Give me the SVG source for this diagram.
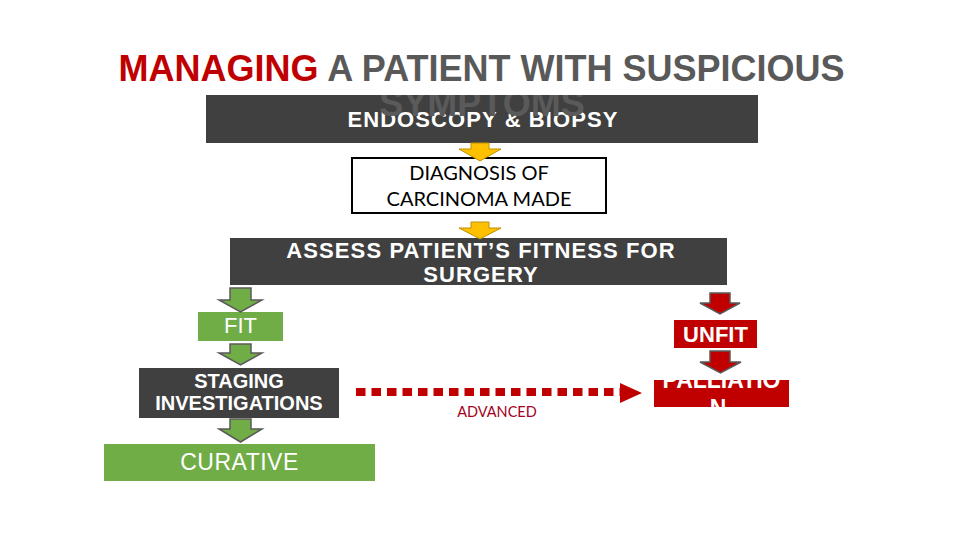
<svg xmlns="http://www.w3.org/2000/svg" width="960" height="540" viewBox="0 0 960 540">
<defs>
<style>
.dark{fill:#404040}
.green{fill:#70ad47}
.red{fill:#c00000}
.w{fill:#ffffff;font-family:"Liberation Sans",Arial,sans-serif;text-anchor:middle}
.b{font-weight:bold}
.cal{font-family:Lato,"Open Sans",sans-serif;text-anchor:middle}
.ya{fill:#ffc000;stroke:#bf9000;stroke-width:1}
.ga{fill:#70ad47;stroke:#595959;stroke-width:1.5}
.ra{fill:#c00000;stroke:#595959;stroke-width:1.5}
</style>
<clipPath id="boxclip"><rect x="206" y="95" width="552" height="48"/></clipPath>
</defs>
<rect width="960" height="540" fill="#ffffff"/>

<g id="title">
<text x="481.5" y="81" font-family="Liberation Sans,Arial,sans-serif" font-weight="bold" font-size="36" text-anchor="middle" fill="#595959"><tspan fill="#c00000">MANAGING</tspan> A PATIENT WITH SUSPICIOUS</text>
</g>

<g id="endoscopy">
<rect class="dark" x="206" y="95" width="552" height="48"/>
<text class="w b" x="483" y="127" font-size="22" letter-spacing="1.1">ENDOSCOPY &amp; BIOPSY</text>
</g>
<g id="title-line2" clip-path="url(#boxclip)">
<text x="482" y="116" font-family="Liberation Sans,Arial,sans-serif" font-weight="bold" font-size="36" text-anchor="middle" fill="#5a5a5a">SYMPTOMS</text>
</g>

<g id="diagnosis">
<rect x="352" y="158" width="254" height="55" fill="#ffffff" stroke="#000000" stroke-width="2"/>
<text class="cal" x="479" y="180" font-size="20" fill="#000000">DIAGNOSIS OF</text>
<text class="cal" x="479" y="206" font-size="20" fill="#000000">CARCINOMA MADE</text>
</g>

<g id="assess">
<rect class="dark" x="230" y="238" width="497" height="47"/>
<text class="w b" x="481" y="257.5" font-size="22" letter-spacing="1.1">ASSESS PATIENT’S FITNESS FOR</text>
<text class="w b" x="481" y="281.5" font-size="22" letter-spacing="1.1">SURGERY</text>
</g>

<g id="fit">
<rect class="green" x="198" y="312" width="85" height="29"/>
<text class="w" x="240.5" y="333" font-size="22">FIT</text>
</g>

<g id="staging">
<rect class="dark" x="139" y="368" width="200" height="50"/>
<text class="w b" x="239" y="388" font-size="20">STAGING</text>
<text class="w b" x="239" y="410" font-size="20">INVESTIGATIONS</text>
</g>

<g id="curative">
<rect class="green" x="104" y="444" width="271" height="37"/>
<text class="w" x="239.5" y="470" font-size="23" letter-spacing="0.5">CURATIVE</text>
</g>

<g id="unfit">
<rect class="red" x="674" y="320" width="83" height="28"/>
<text class="w b" x="715.5" y="342" font-size="22">UNFIT</text>
</g>

<g id="palliation">
<rect class="red" x="654" y="380" width="135" height="27"/>
<text class="w b" x="721.5" y="388" font-size="23">PALLIATIO</text>
<text class="w b" x="718" y="416" font-size="23">N</text>
</g>

<g id="connectors">
<polygon class="ya" points="471,143 489,143 489,149 501,149 480,161 459,149 471,149"/>
<polygon class="ya" points="471,222 489,222 489,228 501,228 480,239 459,228 471,228"/>
<polygon class="ga" points="230,288 251,288 251,300 262,300 240.5,312 219,300 230,300"/>
<polygon class="ga" points="230,344 251,344 251,353 262,353 240.5,365 219,353 230,353"/>
<polygon class="ga" points="230,419 251,419 251,429 262,429 240.5,442 219,429 230,429"/>
<polygon class="ra" points="710,293 730,293 730,303 740,303 720,314 700,303 710,303"/>
<polygon class="ra" points="710,351 730,351 730,362 741,362 720.5,373 700,362 710,362"/>
<path d="M356,392 H622" stroke="#c00000" stroke-width="8" stroke-dasharray="9.5 6" fill="none"/>
<polygon points="620,383 642,393 620,403" fill="#c00000"/>
<text class="cal" x="497" y="417" font-size="14.5" fill="#a50021">ADVANCED</text>
</g>
</svg>
